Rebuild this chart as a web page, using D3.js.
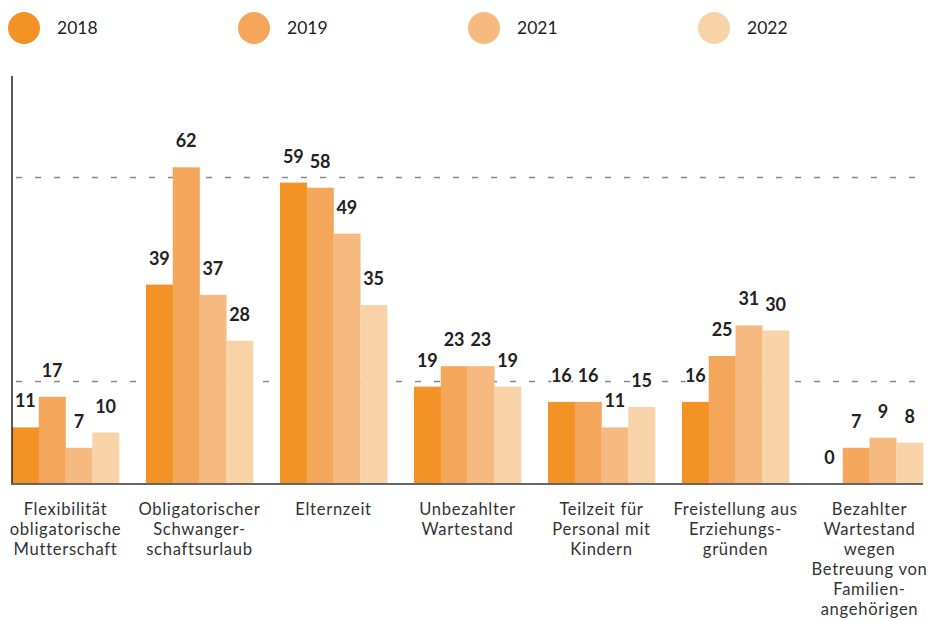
<!DOCTYPE html>
<html><head><meta charset="utf-8">
<script src="https://cdn.jsdelivr.net/npm/d3@7/dist/d3.min.js"></script>
<style>
body{margin:0;background:#fff;}
text{font-family:Lato,"Open Sans",sans-serif;}
</style></head>
<body><svg id="c" width="928" height="621"></svg>
<script>
const categories = [
  ["Flexibilität","obligatorische","Mutterschaft"],
  ["Obligatorischer","Schwanger-","schaftsurlaub"],
  ["Elternzeit"],
  ["Unbezahlter","Wartestand"],
  ["Teilzeit für","Personal mit","Kindern"],
  ["Freistellung aus","Erziehungs-","gründen"],
  ["Bezahlter","Wartestand","wegen","Betreuung von","Familien-","angehörigen"]
];
const seriesNames = ["2018","2019","2021","2022"];
const v2018 = [11,39,59,19,16,16,0];
const v2019 = [17,62,58,23,16,25,7];
const v2021 = [7,37,49,23,11,31,9];
const v2022 = [10,28,35,19,15,30,8];
const gridTicks = [20,60];
const colors = ["#F39325","#F4A75A","#F6BA80","#F8D3A8"];

const series = [v2018,v2019,v2021,v2022];
const svg = d3.select("#c");
const catIdx = d3.range(categories.length);
const x0 = d3.scaleBand().domain(catIdx).range([12,923]).paddingInner(27/134).paddingOuter(0);
const x1 = d3.scaleBand().domain(d3.range(series.length)).range([0,x0.bandwidth()]);
const y = d3.scaleLinear().domain([0,20]).range([483.5,381.5]);

// grid
svg.append("g").selectAll("line").data(gridTicks).join("line")
  .attr("x1",12).attr("x2",918).attr("y1",d=>y(d)).attr("y2",d=>y(d))
  .attr("stroke","#888").attr("stroke-width",1.6).attr("stroke-dasharray","6,13").attr("stroke-dashoffset",-4);

// bars
const g = svg.append("g");
series.forEach((s,si)=>{
  g.selectAll(null).data(s).join("rect")
    .attr("x",(d,i)=>x0(i)+x1(si)).attr("width",x1.bandwidth()+0.3)
    .attr("y",d=>y(d)).attr("height",d=>y(0)-y(d))
    .attr("fill",colors[si]);
});
// value labels
series.forEach((s,si)=>{
  g.selectAll(null).data(s).join("text")
    .attr("x",(d,i)=>x0(i)+x1(si)+x1.bandwidth()/2)
    .attr("y",d=>y(d)-20)
    .attr("text-anchor","middle")
    .attr("font-size",18).attr("font-weight","bold").attr("fill","#222")
    .attr("stroke","#fff").attr("stroke-width",3).attr("paint-order","stroke")
    .text(d=>d);
});

// axes
svg.append("line").attr("x1",12).attr("x2",12).attr("y1",76).attr("y2",y(0)+1)
  .attr("stroke","#222").attr("stroke-width",1.5);
svg.append("line").attr("x1",11).attr("x2",923).attr("y1",y(0)+0.5).attr("y2",y(0)+0.5)
  .attr("stroke","#666").attr("stroke-width",2);

// category labels
const cl = svg.append("g");
categories.forEach((lines,i)=>{
  const t = cl.append("text").attr("text-anchor","middle").attr("font-size",16.6)
    .attr("letter-spacing",0.7).attr("fill","#333");
  lines.forEach((ln,k)=>{
    t.append("tspan").attr("x",x0(i)+x0.bandwidth()/2).attr("y",515+k*20).text(ln);
  });
});

// legend
const lg = svg.append("g");
seriesNames.forEach((n,i)=>{
  lg.append("circle").attr("cx",24+i*230).attr("cy",28).attr("r",16).attr("fill",colors[i]);
  lg.append("text").attr("x",57+i*230).attr("y",34).attr("font-size",17.5).attr("fill","#222").text(n);
});
</script></body></html>
